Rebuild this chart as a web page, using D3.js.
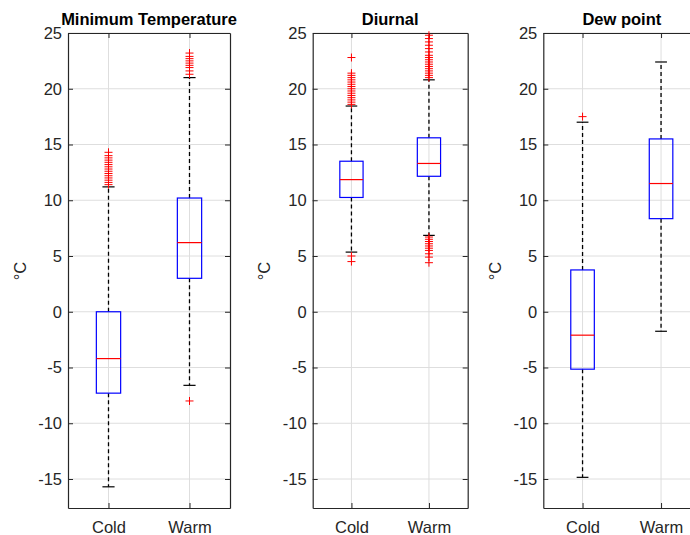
<!DOCTYPE html>
<html><head><meta charset="utf-8">
<script src="https://cdn.jsdelivr.net/npm/d3@7"></script>
<style>body{margin:0;background:#fff}svg{display:block}</style>
</head><body><svg id="c" width="690" height="535"></svg>
<script>
const categories = ["Cold", "Warm"];
const panelTitles = ["Minimum Temperature", "Diurnal", "Dew point"];
const yTicks = [-15, -10, -5, 0, 5, 10, 15, 20, 25];
// per panel: [Cold, Warm]
const q1Values = [[-7.3, 3.0], [10.25, 12.15], [-5.15, 8.35]];
const medianValues = [[-4.2, 6.2], [11.85, 13.3], [-2.1, 11.5]];
const q3Values = [[0.0, 10.2], [13.5, 15.6], [3.75, 15.5]];
const whiskerLow = [[-15.7, -6.6], [5.35, 6.85], [-14.85, -1.75]];
const whiskerHigh = [[11.2, 21.0], [18.45, 20.8], [17.0, 22.4]];
const outliersMinTemp = [
  [11.4, 11.6, 11.8, 12.0, 12.2, 12.4, 12.6, 12.8, 13.0, 13.2, 13.4, 13.6, 13.8, 14.0, 14.3],
  [21.3, 21.6, 21.9, 22.1, 22.3, 22.5, 22.7, 22.9, 23.2, -8.0]
];
const outliersDiurnal = [
  [18.6, 18.8, 19.0, 19.2, 19.4, 19.6, 19.8, 20.0, 20.2, 20.4, 20.6, 20.8, 21.0, 21.2, 21.4, 22.8, 5.0, 4.5],
  [21.0, 21.2, 21.4, 21.6, 21.8, 22.0, 22.2, 22.4, 22.6, 22.8, 23.0, 23.3, 23.6, 23.9, 24.2, 24.5, 24.8,
   6.7, 6.5, 6.3, 6.1, 5.9, 5.7, 5.5, 5.2, 4.9, 4.4]
];
const outliersDew = [[17.5], []];
const outlierValues = [outliersMinTemp, outliersDiurnal, outliersDew];

const svg = d3.select("#c");
const panelLeft = [68, 312.7, 543.3];
const panelWidth = [162, 155, 157];
const plotTop = 33, plotBottom = 508;
const axisColor = "#262626";
const font = "'Liberation Sans', Arial, sans-serif";

const y = d3.scaleLinear().domain([-17.6, 25]).range([plotBottom, plotTop]);

panelTitles.forEach((title, p) => {
  const x = d3.scaleLinear().domain([0.5, 2.5]).range([panelLeft[p], panelLeft[p] + panelWidth[p]]);
  const xPos = (i) => x(i + 1);
  const g = svg.append("g");
  const unit = x(2) - x(1);

  // grid
  g.selectAll(".gy").data(yTicks).join("line")
    .attr("x1", x.range()[0]).attr("x2", x.range()[1])
    .attr("y1", d => y(d)).attr("y2", d => y(d))
    .attr("stroke", "#dedede").attr("stroke-width", 1);
  g.selectAll(".gx").data(categories).join("line")
    .attr("x1", (d, i) => xPos(i)).attr("x2", (d, i) => xPos(i))
    .attr("y1", plotTop).attr("y2", plotBottom)
    .attr("stroke", "#dedede").attr("stroke-width", 1);

  // axes with inward ticks
  const yAxisL = d3.axisLeft(y).tickValues(yTicks).tickFormat(d => String(d)).tickSizeInner(-5).tickSizeOuter(0).tickPadding(6);
  const yAxisR = d3.axisRight(y).tickValues(yTicks).tickSizeInner(-5).tickSizeOuter(0).tickFormat("");
  const xAxisB = d3.axisBottom(x).tickValues([1, 2]).tickFormat((d) => categories[d - 1]).tickSizeInner(-5).tickSizeOuter(0).tickPadding(13);
  const xAxisT = d3.axisTop(x).tickValues([1, 2]).tickFormat("").tickSizeInner(-5).tickSizeOuter(0);

  const style = (sel) => {
    sel.selectAll("path").attr("stroke", axisColor).attr("stroke-width", 1.2);
    sel.selectAll("line").attr("stroke", axisColor).attr("stroke-width", 1);
    sel.selectAll("text").attr("fill", axisColor).style("font-family", font).style("font-size", "16.5px");
  };
  g.append("g").attr("transform", `translate(${x.range()[0]},0)`).call(yAxisL).call(style);
  g.append("g").attr("transform", `translate(${x.range()[1]},0)`).call(yAxisR).call(style);
  g.append("g").attr("transform", `translate(0,${plotBottom})`).call(xAxisB).call(style);
  g.append("g").attr("transform", `translate(0,${plotTop})`).call(xAxisT).call(style);

  // y label
  g.append("text")
    .attr("transform", `translate(${x.range()[0] - 48},271) rotate(-90)`)
    .attr("text-anchor", "middle").attr("dy", "0.35em")
    .style("font-family", font).style("font-size", "16.5px").attr("fill", axisColor)
    .text("°C");

  // title
  g.append("text")
    .attr("x", (x.range()[0] + x.range()[1]) / 2).attr("y", 25)
    .attr("text-anchor", "middle")
    .style("font-family", font).style("font-size", "16.5px").style("font-weight", "bold")
    .attr("fill", "#000").text(title);

  const halfBox = 0.15 * unit, halfCap = 0.075 * unit;
  categories.forEach((c, i) => {
    const cx = xPos(i);
    // whiskers
    g.append("line").attr("x1", cx).attr("x2", cx)
      .attr("y1", y(q3Values[p][i])).attr("y2", y(whiskerHigh[p][i]))
      .attr("stroke", "#000").attr("stroke-width", 1.3).attr("stroke-dasharray", "4,3");
    g.append("line").attr("x1", cx).attr("x2", cx)
      .attr("y1", y(q1Values[p][i])).attr("y2", y(whiskerLow[p][i]))
      .attr("stroke", "#000").attr("stroke-width", 1.3).attr("stroke-dasharray", "4,3");
    [whiskerHigh[p][i], whiskerLow[p][i]].forEach(v => {
      g.append("line").attr("x1", cx - halfCap).attr("x2", cx + halfCap)
        .attr("y1", y(v)).attr("y2", y(v)).attr("stroke", "#000").attr("stroke-width", 1.2);
    });
    // box
    g.append("rect").attr("x", cx - halfBox).attr("width", 2 * halfBox)
      .attr("y", y(q3Values[p][i])).attr("height", y(q1Values[p][i]) - y(q3Values[p][i]))
      .attr("fill", "none").attr("stroke", "#0000ff").attr("stroke-width", 1.2);
    // median
    g.append("line").attr("x1", cx - halfBox).attr("x2", cx + halfBox)
      .attr("y1", y(medianValues[p][i])).attr("y2", y(medianValues[p][i]))
      .attr("stroke", "#ff0000").attr("stroke-width", 1.2);
    // outliers
    const s = 4;
    outlierValues[p][i].forEach(v => {
      g.append("path")
        .attr("d", `M${cx - s},${y(v)}H${cx + s}M${cx},${y(v) - s}V${y(v) + s}`)
        .attr("stroke", "#ff0000").attr("stroke-width", 1).attr("fill", "none");
    });
  });
});
</script></body></html>
